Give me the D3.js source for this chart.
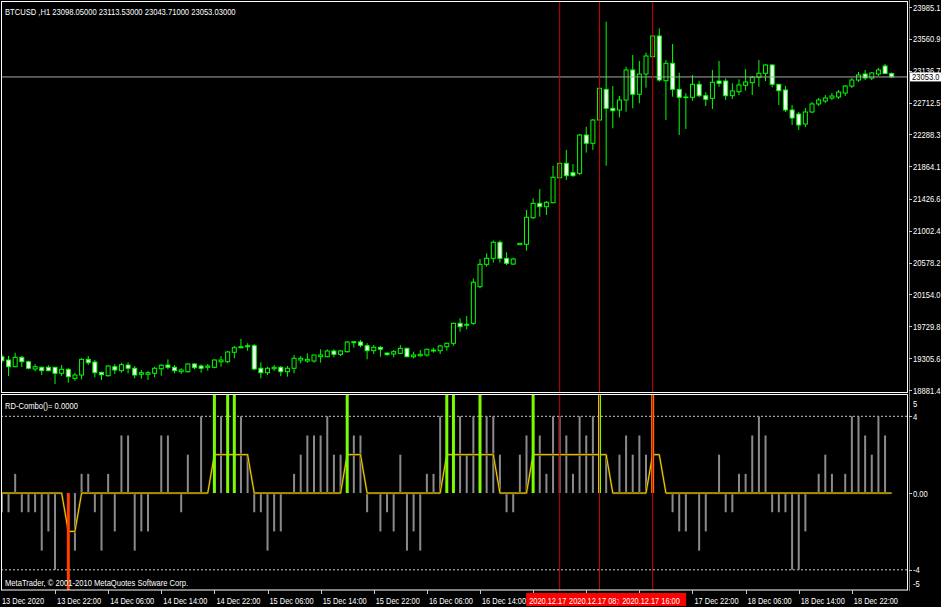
<!DOCTYPE html>
<html><head><meta charset="utf-8">
<script src="https://cdn.jsdelivr.net/npm/d3@7"></script>
<style>html,body{margin:0;padding:0;background:#000;overflow:hidden}</style>
</head><body>
<svg id="c" width="941" height="607"></svg>
<script>
const symbolTitle = "BTCUSD ,H1  23098.05000 23113.53000 23043.71000 23053.03000";
const indicatorTitle = "RD-Combo()=  0.0000";
const copyright = "MetaTrader, \u00A9 2001-2010 MetaQuotes Software Corp.";

const open = [19325,19281,19192,19317,19258,19161,19184,19184,19184,19104,19157,19037,19081,19290,19254,19117,19072,19192,19139,19214,
19171,19091,19091,19104,19165,19214,19184,19125,19125,19228,19201,19184,19184,19258,19258,19384,19445,19458,19472,19171,
19112,19165,19184,19125,19171,19281,19268,19268,19325,19325,19401,19357,19392,19512,19521,19472,19405,19450,19374,19361,
19370,19437,19325,19338,19348,19401,19405,19458,19504,19770,19744,19770,20258,20556,20636,20850,20636,20560,20818,20823,
21177,21369,21324,21377,21710,21902,21777,21769,22279,22169,22479,22888,22635,22613,22746,23146,22822,23092,23323,23599,
23003,23235,22888,22782,22782,22955,22803,22768,22999,22999,22803,22856,22942,22976,23048,23102,23212,22955,22879,22613,
22559,22426,22586,22693,22733,22772,22786,22839,22932,23012,23092,23039,23092,23199,23098.05];
const high = [19361,19334,19378,19334,19272,19228,19192,19211,19188,19214,19171,19112,19304,19334,19281,19125,19214,19228,19245,19250,
19201,19148,19135,19192,19224,19290,19214,19171,19237,19237,19224,19228,19290,19334,19401,19468,19561,19504,19494,19250,
19192,19214,19201,19201,19348,19334,19370,19348,19424,19424,19424,19414,19534,19534,19548,19504,19481,19468,19378,19414,
19481,19445,19392,19414,19432,19445,19477,19512,19778,19837,19867,20370,20627,20703,20874,20874,20716,20644,20840,21280,
21436,21560,21400,21870,21920,22080,21893,22293,22390,22493,22919,23789,22932,22799,23190,23346,23266,23376,23612,23701,
23279,23492,23110,22835,23079,22999,22848,23146,23266,23035,22968,23022,23159,23066,23279,23226,23226,22959,22932,22679,
22586,22639,22719,22772,22812,22839,22879,22946,23039,23119,23146,23119,23172,23226,23113.53];
const low = [19241,19068,19184,19188,19157,19131,19081,19131,18961,19068,18979,19005,19024,19214,19051,19015,19059,19095,19112,19104,
19037,19032,19015,19051,19072,19157,19104,19095,19112,19157,19112,19139,19171,19192,19237,19304,19437,19405,19148,19037,
19081,19135,19068,19059,19104,19237,19245,19245,19245,19317,19317,19334,19378,19445,19450,19290,19361,19325,19338,19317,
19361,19317,19304,19325,19325,19378,19361,19405,19472,19658,19690,19748,20237,20524,20578,20578,20547,20547,20814,20738,
21160,21191,21213,21369,21706,21680,21724,21746,22044,22080,22466,21870,22369,22515,22590,22635,22702,22910,23319,22990,
22479,22790,22279,22359,22737,22782,22666,22626,22923,22746,22759,22812,22870,22812,22923,22999,22915,22679,22586,22413,
22346,22386,22573,22666,22706,22746,22759,22799,22906,22986,23012,23012,23066,23092,23043.71];
const close = [19272,19192,19317,19258,19171,19192,19139,19139,19104,19157,19059,19081,19290,19245,19112,19085,19201,19148,19218,19171,
19081,19112,19112,19171,19211,19184,19139,19148,19228,19179,19171,19201,19281,19281,19388,19445,19458,19472,19161,19112,
19171,19184,19125,19171,19304,19304,19290,19348,19348,19401,19357,19401,19521,19525,19477,19405,19450,19424,19352,19392,
19437,19325,19348,19357,19424,19414,19468,19504,19770,19725,19757,20317,20556,20636,20850,20636,20570,20627,20836,21183,
21369,21324,21383,21716,21902,21737,21737,22279,22169,22479,22902,22635,22603,22746,23146,22822,23092,23332,23599,23012,
23235,22888,22782,22786,22955,22803,22755,22982,22968,22803,22866,22946,22986,23048,23102,23212,22955,22870,22613,22506,
22413,22586,22693,22746,22772,22799,22852,22932,23012,23079,23039,23106,23146,23098,23053.03];

const histogram = [-1,-1,1,-1,-1,-1,-3,-2,-4,0, 0,-3,1,1,-1,-3,1,-2,3,3, -3,-2,-2,0,3,3,0,-1,2,0,
4,0,0,4,0,0,4,2,-1,-1, -3,-2,-2,0,1,2,3,3,3,4, 2,2,0,3,3,-1,0,-2,-1,-2, 2,-3,-2,-3,1,1,4,0,0,4,
2,4,0,4,4,2,-1,-1,2,3, 0,3,1,4,4,3,1,4,3,4, 0,2,0,2,3,2,3,2,0,0, 0,-1,-2,-2,0,-3,-2,0,2,-1,
-1,1,1,3,4,3,-1,-1,-1,-4, -4,-2,0,1,2,1,0,1,4,4, 3,2,4,3,0];
const signalLine = [0,0,0,0,0,0,0,0,0,0, -2,-2,0,0,0,0,0,0,0,0, 0,0,0,0,0,0,0,0,0,0,
0,0,2,2,2,2,2,2,0,0, 0,0,0,0,0,0,0,0,0,0, 0,0,2,2,2,0,0,0,0,0, 0,0,0,0,0,0,0,2,2,2,
2,2,2,2,2,0,0,0,0,0, 2,2,2,2,2,2,2,2,2,2, 2,2,0,0,0,0,0,0,2,2, 0,0,0,0,0,0,0,0,0,0,
0,0,0,0,0,0,0,0,0,0, 0,0,0,0,0,0,0,0,0,0, 0,0,0,0,0];
const buySignals = [32,34,35,52,67,68,72,80,90];
const sellSignals = [10];
const exitSignals = [98];

const vLineBars = [84,90,98];
const vLineLabels = ["2020.12.17 02:00","2020.12.17 08:00","2020.12.17 16:00"];

const timeTickBars = [0,8,16,24,32,40,48,56,64,72,80,88,96,104,112,120,128];
const timeTickLabels = ["13 Dec 2020","13 Dec 22:00","14 Dec 06:00","14 Dec 14:00","14 Dec 22:00","15 Dec 06:00",
"15 Dec 14:00","15 Dec 22:00","16 Dec 06:00","16 Dec 14:00","16 Dec 22:00","17 Dec 06:00","17 Dec 14:00",
"17 Dec 22:00","18 Dec 06:00","18 Dec 14:00","18 Dec 22:00"];
const priceTicks = [23985.1,23560.9,23136.7,22712.5,22288.3,21864.1,21426.6,21002.4,20578.2,20154.0,19729.8,19305.6,18881.4];
const indTicks = [5,4,0,-4,-5];
const indTickLabels = ["5","4","0.00","-4","-5"];
const currentPrice = 23053.03;

const svg = d3.select("#c");
const FONT = "'Liberation Sans', Arial, sans-serif";
const FS = 9.5;
function squeeze(sel, k){
  sel.each(function(){
    const w = this.getComputedTextLength();
    d3.select(this).attr("textLength", w*k).attr("lengthAdjust","spacingAndGlyphs");
  });
  return sel;
}
function txt(g, x, y, s, color){
  return g.append("text").attr("x",x).attr("y",y).text(s)
    .attr("font-family",FONT).attr("font-size",FS).attr("fill",color||"#fff");
}

svg.append("rect").attr("width",941).attr("height",607).attr("fill","#000");

const n = close.length;
const x = d3.scaleLinear().domain([0, n-1]).range([1.9, 891.7]);
const y = d3.scaleLinear().domain([18881.4, 23985.1]).range([390, 7]);
const yi = d3.scaleLinear().domain([-4, 4]).range([569.8, 416.3]);

const defs = svg.append("defs");
defs.append("clipPath").attr("id","cpMain").append("rect").attr("x",1).attr("y",2).attr("width",906.5).attr("height",390.5);
defs.append("clipPath").attr("id","cpInd").append("rect").attr("x",1).attr("y",395).attr("width",906.5).attr("height",195);

// ---------- main window ----------
const gMain = svg.append("g").attr("clip-path","url(#cpMain)");
const idx = d3.range(n);
const GREEN = "#00ff00";
gMain.selectAll("line.wick").data(idx).join("line")
  .attr("x1", i=>x(i)).attr("x2", i=>x(i))
  .attr("y1", i=>y(high[i])).attr("y2", i=>y(low[i]))
  .attr("stroke", GREEN).attr("stroke-width",1);
gMain.selectAll("rect.body").data(idx).join("rect")
  .attr("x", i=>x(i)-2).attr("width",4)
  .attr("y", i=>y(Math.max(open[i],close[i])))
  .attr("height", i=>Math.max(0.6, Math.abs(y(open[i])-y(close[i]))))
  .attr("fill", i=> close[i] < open[i] ? "#ffffff" : "#000000")
  .attr("stroke", GREEN).attr("stroke-width",1);

// current price line
gMain.append("line").attr("x1",1).attr("x2",910).attr("y1",y(currentPrice)).attr("y2",y(currentPrice))
  .attr("stroke","#a8a8a8").attr("stroke-width",1);

// ---------- indicator window ----------
const gInd = svg.append("g").attr("clip-path","url(#cpInd)");
[4,-4].forEach(v=>{
  gInd.append("line").attr("x1",1).attr("x2",908).attr("y1",yi(v)).attr("y2",yi(v))
    .attr("stroke","#c8c8c8").attr("stroke-width",1).attr("stroke-dasharray","2,2");
});
gInd.selectAll("rect.hist").data(idx.filter(i=>histogram[i]!==0)).join("rect")
  .attr("x", i=>x(i)-1).attr("width",2)
  .attr("y", i=>Math.min(yi(0), yi(histogram[i])))
  .attr("height", i=>Math.abs(yi(histogram[i])-yi(0)))
  .attr("fill","#8a8a8a");
const sigLine = d3.line().x(i=>x(i)).y(i=>yi(signalLine[i]));
gInd.append("path").attr("d", sigLine(idx)).attr("fill","none").attr("stroke","#4a3f00").attr("stroke-width",2.2);
gInd.append("path").attr("d", sigLine(idx)).attr("fill","none").attr("stroke","#ffd200").attr("stroke-width",1);
gInd.selectAll("rect.buy").data(buySignals).join("rect")
  .attr("x", i=>x(i)-1.5).attr("width",3)
  .attr("y", 395).attr("height", yi(0)-395).attr("fill","#7cfc00");
gInd.selectAll("rect.exit").data(exitSignals).join("rect")
  .attr("x", i=>x(i)-1.5).attr("width",3)
  .attr("y", 395).attr("height", yi(0)-395).attr("fill","#ff8000");
gInd.selectAll("rect.sell").data(sellSignals).join("rect")
  .attr("x", i=>x(i)-1.5).attr("width",3)
  .attr("y", yi(0)).attr("height", 591-yi(0)).attr("fill","#ff4000");

// vertical lines through both windows
[["cpMain"],["cpInd"]].forEach(([cp])=>{
  const g = svg.append("g").attr("clip-path",`url(#${cp})`);
  g.selectAll("line").data(vLineBars).join("line")
    .attr("x1", i=>x(i)).attr("x2", i=>x(i)).attr("y1",0).attr("y2",600)
    .attr("stroke","#d00000").attr("stroke-width",1);
});

// frames
svg.append("rect").attr("x",1.5).attr("y",1.5).attr("width",906).attr("height",391)
  .attr("fill","none").attr("stroke","#fff").attr("stroke-width",1);
svg.append("rect").attr("x",1.5).attr("y",394.5).attr("width",906).attr("height",195.5)
  .attr("fill","none").attr("stroke","#fff").attr("stroke-width",1);
svg.append("line").attr("x1",909.5).attr("x2",909.5).attr("y1",0).attr("y2",591)
  .attr("stroke","#808080").attr("stroke-width",1);

// texts in windows
squeeze(txt(svg, 5, 14.5, symbolTitle), 0.8);
squeeze(txt(svg, 5, 408.5, indicatorTitle), 0.8);
squeeze(txt(svg, 5, 585.5, copyright), 0.8);

// ---------- price axis ----------
const gAx = svg.append("g");
priceTicks.forEach(v=>{
  gAx.append("line").attr("x1",909).attr("x2",912).attr("y1",Math.round(y(v))+0.5).attr("y2",Math.round(y(v))+0.5)
    .attr("stroke","#c8c8c8");
  squeeze(txt(gAx, 913, y(v)+3.5, v.toFixed(1)), 0.8);
});
// current price box
gAx.append("rect").attr("x",910).attr("y",y(currentPrice)-4.5).attr("width",31).attr("height",9).attr("fill","#fff");
squeeze(txt(gAx, 912, y(currentPrice)+3.5, currentPrice.toFixed(1), "#000"), 0.8);

// indicator axis
indTicks.forEach((v,k)=>{
  let yy = yi(v);
  if (v===5) yy = 403; if (v===-5) yy = 583.5;
  if (Math.abs(v)!==5) gAx.append("line").attr("x1",909).attr("x2",912).attr("y1",Math.round(yi(v))+0.5).attr("y2",Math.round(yi(v))+0.5).attr("stroke","#c8c8c8");
  squeeze(txt(gAx, 913, yy+3.5, indTickLabels[k]), 0.8);
});

// ---------- time axis ----------
timeTickBars.forEach((b,k)=>{
  if (k>0) gAx.append("line").attr("x1",Math.round(x(b))+0.5).attr("x2",Math.round(x(b))+0.5).attr("y1",590).attr("y2",594)
    .attr("stroke","#c8c8c8");
  squeeze(txt(gAx, k===0 ? 2 : x(b)+2, 603.5, timeTickLabels[k]), 0.78);
});
vLineBars.forEach((b,k)=>{
  gAx.append("rect").attr("x",x(b)-33.5).attr("y",593).attr("width",67).attr("height",13).attr("fill","#ff0000");
  squeeze(txt(gAx, x(b)-30.5, 603.5, vLineLabels[k]), 0.78);
});
</script>
</body></html>
